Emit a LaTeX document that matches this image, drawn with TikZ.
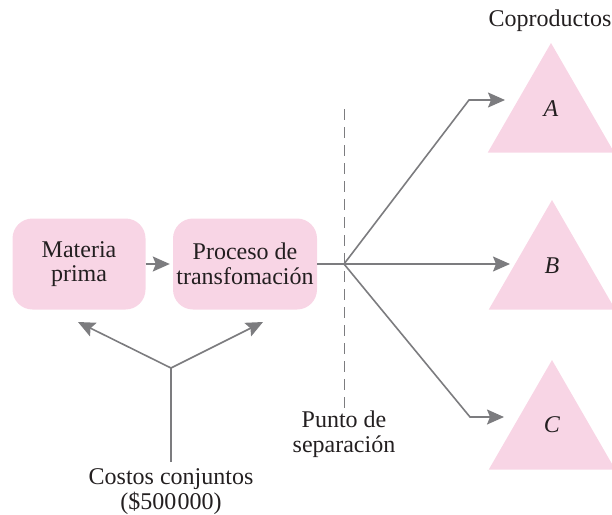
\documentclass[tikz,border=0pt]{standalone}
\usepackage{fontspec}
\setmainfont{Liberation Serif}
\usetikzlibrary{arrows.meta,shapes.geometric}
\definecolor{rosa}{RGB}{248,213,229}
\definecolor{gris}{RGB}{124,124,127}
\definecolor{tinta}{RGB}{35,31,32}
\tikzset{
	texto/.style={text=tinta, align=center, inner sep=0pt, font=\fontsize{24}{24.5}\selectfont},
	caja/.style={texto, fill=rosa, rounded corners=20pt, minimum width=133pt, minimum height=91pt},
	tri/.style={regular polygon, regular polygon sides=3, fill=rosa, minimum size=146pt, inner sep=0pt, outer sep=0pt},
	linea/.style={draw=gris, line width=1.6pt},
	flecha/.style={linea, -{Stealth[length=17pt,width=15pt,inset=3pt]}},
	corte/.style={draw=gris, line width=1pt, dash pattern=on 11pt off 7pt}
}

\begin{document}
\begin{tikzpicture}[x=1pt, y=-1pt]
			%%%%% START %%%%%
			\useasboundingbox (0,0) rectangle (612,514);
			
			\node[caja] (materia) at (79, 264) {Materia\\prima};
			\node[caja, minimum width=144pt] (proceso) at (245, 264) {Proceso de\\transfomación};
			\draw[flecha, shorten >=3pt] (materia) -- (proceso);
			
			\coordinate (split) at (344, 264);
			\draw[linea] (proceso.east) -- (split);
			
			\node[tri, label={[texto, yshift=7pt]center:\textit{A}}] (A) at (551, 116) {};
			\node[tri, label={[texto, yshift=7pt]center:\textit{B}}] (B) at (552, 273) {};
			\node[tri, label={[texto, yshift=8pt]center:\textit{C}}] (C) at (552, 433) {};
			\node[texto] (coproductos) at (550, 21) {Coproductos};
			
			\coordinate (dobleA) at (469, 100);
			\coordinate (puntaA) at (505, 100);
			\coordinate (puntaB) at (510, 264);
			\coordinate (dobleC) at (470, 417);
			\coordinate (puntaC) at (504, 417);
			\draw[flecha] (split) -- (dobleA) -- (puntaA);
			\draw[flecha] (split) -- (puntaB);
			\draw[flecha] (split) -- (dobleC) -- (puntaC);
			
			\coordinate (arriba) at (344, 109);
			\node[texto, anchor=north, outer sep=3pt] (punto) at (344, 408) {Punto de\\separación};
			\draw[corte] (arriba) -- (punto.north);
			
			\coordinate (union) at (171, 368);
			\coordinate (puntaM) at (78, 322);
			\coordinate (puntaP) at (263, 322);
			\node[texto, anchor=north, outer sep=7pt] (costos) at (171, 462) {Costos conjuntos\\(\$500\kern1.5pt000)};
			\draw[linea] (costos.north) -- (union);
			\draw[flecha] (union) -- (puntaM);
			\draw[flecha] (union) -- (puntaP);
			
			%%%%% END %%%%%
\end{tikzpicture}
\end{document}
